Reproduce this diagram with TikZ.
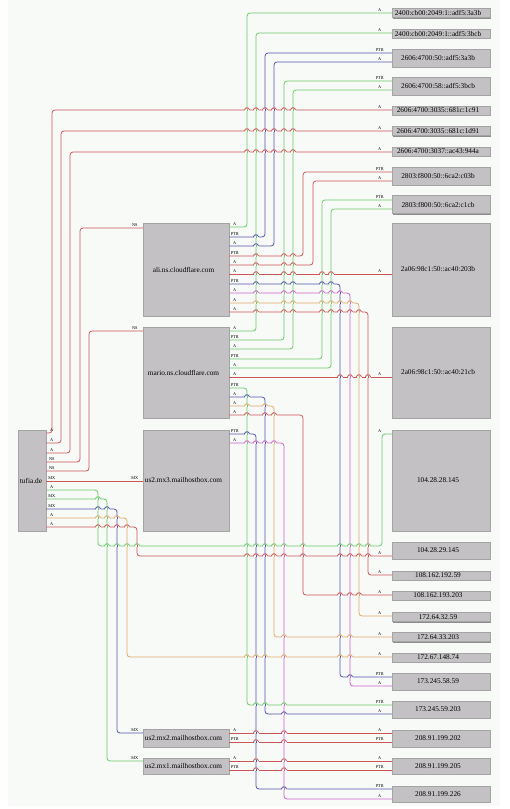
\documentclass[tikz,border=0pt]{standalone}
\usepackage{fontspec}
\setmainfont{Liberation Serif}
\usetikzlibrary{shadows}
\definecolor{bgc}{HTML}{F8FAF8}
\definecolor{eg}{HTML}{66CC66}
\definecolor{eb}{HTML}{5555AA}
\definecolor{er}{HTML}{CC5555}
\definecolor{em}{HTML}{CC66CC}
\definecolor{eo}{HTML}{DDAA66}
\definecolor{boxf}{HTML}{C3C1C3}
\definecolor{boxd}{HTML}{A4A4A4}
\definecolor{boxs}{HTML}{8C8C8C}
\tikzset{
  box/.style={draw=boxd, fill=boxf, line width=0.5pt, inner sep=0pt,
    general shadow={fill=boxs, shadow xshift=1.2pt, shadow yshift=-1.2pt}},
  boxtxt/.style={font=\fontsize{7.3}{8}\selectfont, inner sep=0pt},
  conn/.style={line width=0.8pt, rounded corners=3pt},
  elab/.style={font=\fontsize{4.3}{5}\selectfont, inner sep=0pt},
  tlab/.style={elab, at start, above=1pt, xshift=5.5pt},
  hlab/.style={elab, at end, above=1pt, xshift=-12pt},
  hlabL/.style={elab, at end, above=1pt, xshift=-8pt},
}
\newcommand\rbox[4]{\node[box, minimum width=98pt, minimum height=#3pt,
  label={[boxtxt, xshift=-3pt]center:{#4}}] (#1) at (441,#2) {};}
\newcommand\lbox[4]{\node[box, minimum width=86pt, minimum height=#3pt,
  label={[boxtxt, xshift=-2.5pt]center:{#4}}] (#1) at (186,#2) {};}
\newcommand\hop[4]{%
  \fill[bgc] (#1-2.5,#2-0.75) rectangle (#1+2.5,#2+0.75);
  \draw[draw=#4,line width=0.8pt] (#1,#2-1.3) -- (#1,#2+1.3);
  \draw[draw=#3,line width=0.8pt] (#1-2.5,#2) .. controls (#1-2.5,#2-3) and (#1+2.5,#2-3) .. (#1+2.5,#2);}
\newcommand\hops[3]{\foreach \hx/\hc in {#3}{\hop{\hx}{#1}{#2}{\hc}}}
\begin{document}
\begin{tikzpicture}[x=1pt,y=-1pt]
\useasboundingbox (0,0) rectangle (510,809);
\fill[bgc] (8,0) rectangle (500,806);
% right boxes
\rbox{R1}{13}{9}{2400:cb00:2049:1::adf5:3a3b}
\rbox{R2}{33.5}{9}{2400:cb00:2049:1::adf5:3bcb}
\rbox{R3}{58}{18}{2606:4700:50::adf5:3a3b}
\rbox{R4}{86}{18}{2606:4700:58::adf5:3bcb}
\rbox{R5}{110.5}{9}{2606:4700:3035::681c:1c91}
\rbox{R6}{131}{9}{2606:4700:3035::681c:1d91}
\rbox{R7}{151.5}{9}{2606:4700:3037::ac43:944a}
\rbox{R8}{176}{18}{2803:f800:50::6ca2:c03b}
\rbox{R9}{204.5}{18}{2803:f800:50::6ca2:c1cb}
\rbox{R10}{269.5}{93}{2a06:98c1:50::ac40:203b}
\rbox{R11}{372.5}{91}{2a06:98c1:50::ac40:21cb}
\rbox{R12}{480.5}{101}{104.28.28.145}
\rbox{R13}{550.5}{17}{104.28.29.145}
\rbox{R14}{575.5}{9}{108.162.192.59}
\rbox{R15}{595.5}{9}{108.162.193.203}
\rbox{R16}{617}{9}{172.64.32.59}
\rbox{R17}{637}{9}{172.64.33.203}
\rbox{R18}{657.5}{9}{172.67.148.74}
\rbox{R19}{681.5}{17}{173.245.58.59}
\rbox{R20}{709.5}{17}{173.245.59.203}
\rbox{R21}{738.5}{17}{208.91.199.202}
\rbox{R22}{766}{16}{208.91.199.205}
\rbox{R23}{794}{16}{208.91.199.226}
% middle boxes
\lbox{ali}{269.5}{93}{ali.ns.cloudflare.com}
\lbox{mario}{372.5}{91}{mario.ns.cloudflare.com}
\lbox{mxc}{480.5}{101}{us2.mx3.mailhostbox.com}
\lbox{mxb}{738}{18}{us2.mx2.mailhostbox.com}
\lbox{mxa}{766}{16}{us2.mx1.mailhostbox.com}
\node[box, minimum width=28pt, minimum height=101pt,
  label={[boxtxt, xshift=-1pt]center:tufia.de}] (tufia) at (32,480.5) {};
% ali edges
\draw[draw=eg,conn] (ali.east|-0,227) -- node[tlab]{A} (247,227) -- (247,13) -- node[hlab]{A} (R1.west|-0,13);
\draw[draw=eb,conn] (ali.east|-0,237) -- node[tlab]{PTR} (265,237) -- (265,53) -- node[hlab]{PTR} (R3.west|-0,53);
\draw[draw=eb,conn] (ali.east|-0,246) -- node[tlab]{A} (274,246) -- (274,62) -- node[hlab]{A} (R3.west|-0,62);
\draw[draw=er,conn] (ali.east|-0,256) -- node[tlab]{PTR} (303,256) -- (303,172) -- node[hlab]{PTR} (R8.west|-0,172);
\draw[draw=er,conn] (ali.east|-0,265) -- node[tlab]{A} (313,265) -- (313,181) -- node[hlab]{A} (R8.west|-0,181);
\draw[draw=er,conn] (ali.east|-0,274) -- node[tlab]{A} node[hlab]{A} (R10.west|-0,274);
\draw[draw=eb,conn] (ali.east|-0,284) -- node[tlab]{PTR} (340,284) -- (340,677) -- node[hlab]{PTR} (R19.west|-0,677);
\draw[draw=em,conn] (ali.east|-0,293) -- node[tlab]{A} (350,293) -- (350,686) -- node[hlab]{A} (R19.west|-0,686);
\draw[draw=eo,conn] (ali.east|-0,303) -- node[tlab]{A} (359,303) -- (359,616) -- node[hlab]{A} (R16.west|-0,616);
\draw[draw=er,conn] (ali.east|-0,312) -- node[tlab]{A} (368,312) -- (368,575) -- node[hlab]{A} (R14.west|-0,575);
% mario edges
\draw[draw=eg,conn] (mario.east|-0,331) -- node[tlab]{A} (256,331) -- (256,33) -- node[hlab]{A} (R2.west|-0,33);
\draw[draw=eg,conn] (mario.east|-0,340) -- node[tlab]{PTR} (284,340) -- (284,81) -- node[hlab]{PTR} (R4.west|-0,81);
\draw[draw=eg,conn] (mario.east|-0,349) -- node[tlab]{A} (293,349) -- (293,90) -- node[hlab]{A} (R4.west|-0,90);
\draw[draw=eg,conn] (mario.east|-0,359) -- node[tlab]{PTR} (322,359) -- (322,200) -- node[hlab]{PTR} (R9.west|-0,200);
\draw[draw=eg,conn] (mario.east|-0,368) -- node[tlab]{A} (331,368) -- (331,209) -- node[hlab]{A} (R9.west|-0,209);
\draw[draw=er,conn] (mario.east|-0,377) -- node[tlab]{A} node[hlab]{A} (R11.west|-0,377);
\draw[draw=eg,conn] (mario.east|-0,388) -- node[tlab]{PTR} (247,388) -- (247,705) -- node[hlab]{PTR} (R20.west|-0,705);
\draw[draw=eb,conn] (mario.east|-0,397) -- node[tlab]{A} (265,397) -- (265,714) -- node[hlab]{A} (R20.west|-0,714);
\draw[draw=eo,conn] (mario.east|-0,406) -- node[tlab]{A} (274,406) -- (274,637) -- node[hlab]{A} (R17.west|-0,637);
\draw[draw=er,conn] (mario.east|-0,415) -- node[tlab]{A} (303,415) -- (303,595) -- node[hlab]{A} (R15.west|-0,595);
% mx edges
\draw[draw=eb,conn] (mxc.east|-0,434) -- node[tlab]{PTR} (256,434) -- (256,789) -- node[hlab]{PTR} (R23.west|-0,789);
\draw[draw=em,conn] (mxc.east|-0,443) -- node[tlab]{A} (284,443) -- (284,799) -- node[hlab]{A} (R23.west|-0,799);
\draw[draw=er,conn] (mxb.east|-0,733) -- node[tlab]{A} node[hlab]{A} (R21.west|-0,733);
\draw[draw=er,conn] (mxb.east|-0,742) -- node[tlab]{PTR} node[hlab]{PTR} (R21.west|-0,742);
\draw[draw=er,conn] (mxa.east|-0,761) -- node[tlab]{A} node[hlab]{A} (R22.west|-0,761);
\draw[draw=er,conn] (mxa.east|-0,770) -- node[tlab]{PTR} node[hlab]{PTR} (R22.west|-0,770);
% tufia edges
\draw[draw=er,conn] (tufia.east|-0,433) -- node[tlab]{A} (52,433) -- (52,110) -- node[hlab]{A} (R5.west|-0,110);
\draw[draw=er,conn] (tufia.east|-0,443) -- node[tlab]{A} (61,443) -- (61,131) -- node[hlab]{A} (R6.west|-0,131);
\draw[draw=er,conn] (tufia.east|-0,453) -- node[tlab]{A} (70,453) -- (70,152) -- node[hlab]{A} (R7.west|-0,152);
\draw[draw=er,conn] (tufia.east|-0,462) -- node[tlab]{NS} (80,462) -- (80,228) -- node[hlabL]{NS} (ali.west|-0,228);
\draw[draw=er,conn] (tufia.east|-0,471) -- node[tlab]{NS} (89,471) -- (89,331) -- node[hlabL]{NS} (mario.west|-0,331);
\draw[draw=er,conn] (tufia.east|-0,481) -- node[tlab]{MX} node[hlabL]{MX} (mxc.west|-0,481);
\draw[draw=eg,conn] (tufia.east|-0,490) -- node[tlab]{A} (98,490) -- (98,546) -- (382,546) -- (382,434) -- node[hlab]{A} (R12.west|-0,434);
\draw[draw=eg,conn] (tufia.east|-0,499) -- node[tlab]{MX} (107,499) -- (107,761) -- node[hlabL]{MX} (mxa.west|-0,761);
\draw[draw=eb,conn] (tufia.east|-0,509) -- node[tlab]{MX} (117,509) -- (117,733) -- node[hlabL]{MX} (mxb.west|-0,733);
\draw[draw=eo,conn] (tufia.east|-0,518) -- node[tlab]{A} (127,518) -- (127,657) -- node[hlab]{A} (R18.west|-0,657);
\draw[draw=er,conn] (tufia.east|-0,527) -- node[tlab]{A} (137,527) -- (137,556) -- node[hlab]{A} (R13.west|-0,556);
% hops
\hops{110}{er}{247/eg,256/eg,265/eb,274/eb,284/eg,293/eg}
\hops{131}{er}{247/eg,256/eg,265/eb,274/eb,284/eg,293/eg}
\hops{152}{er}{247/eg,256/eg,265/eb,274/eb,284/eg,293/eg}
\hops{237}{eb}{256/eg}
\hops{246}{eb}{256/eg}
\hops{256}{er}{256/eg,284/eg,293/eg}
\hops{265}{er}{256/eg,284/eg,293/eg}
\hops{274}{er}{256/eg,284/eg,293/eg,322/eg,331/eg}
\hops{284}{eb}{256/eg,284/eg,293/eg,322/eg,331/eg}
\hops{293}{em}{256/eg,284/eg,293/eg,322/eg,331/eg,340/eb}
\hops{303}{eo}{256/eg,284/eg,293/eg,322/eg,331/eg,340/eb,350/em}
\hops{312}{er}{256/eg,284/eg,293/eg,322/eg,331/eg,340/eb,350/em,359/eo}
\hops{377}{er}{340/eb,350/em,359/eo,368/er}
\hops{397}{eb}{247/eg}
\hops{406}{eo}{247/eg,265/eb}
\hops{415}{er}{247/eg,265/eb,274/eo}
\hops{434}{eb}{247/eg}
\hops{443}{em}{247/eg,256/eb,265/eb,274/eo}
\hops{499}{eg}{98/eg}
\hops{509}{eb}{98/eg,107/eg}
\hops{518}{eo}{98/eg,107/eg,117/eb}
\hops{527}{er}{98/eg,107/eg,117/eb,127/eo}
\hops{546}{eg}{107/eg,117/eb,127/eo,137/er,247/eg,256/eb,265/eb,274/eo,284/em,303/er,340/eb,350/em,359/eo,368/er}
\hops{556}{er}{247/eg,256/eb,265/eb,274/eo,284/em,303/er,340/eb,350/em,359/eo,368/er}
\hops{595}{er}{340/eb,350/em,359/eo}
\hops{637}{eo}{284/em,340/eb,350/em}
\hops{657}{eo}{247/eg,256/eb,265/eb,284/em,340/eb,350/em}
\hops{677}{eb}{350/em}
\hops{705}{eg}{256/eb,265/eb,284/em}
\hops{714}{eb}{284/em}
\hops{733}{er}{256/eb,284/em}
\hops{742}{er}{256/eb,284/em}
\hops{761}{er}{256/eb,284/em}
\hops{770}{er}{256/eb,284/em}
\hops{789}{eb}{284/em}
\end{tikzpicture}
\end{document}
